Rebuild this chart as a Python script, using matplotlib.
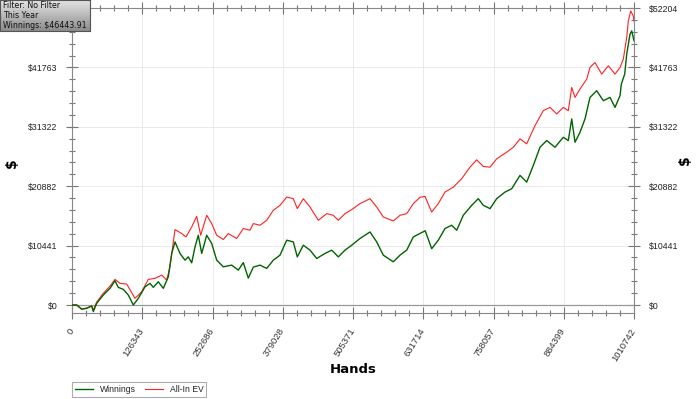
import numpy as np
import matplotlib
matplotlib.use("Agg")
import matplotlib.pyplot as plt
from matplotlib.ticker import FixedLocator, MultipleLocator

# ---- data ----
x_ticks = [0, 126343, 252686, 379028, 505371, 631714, 758057, 884399, 1010742]
x_tick_labels = [str(v) for v in x_ticks]
y_ticks = [0, 10441, 20882, 31322, 41763, 52204]
y_tick_labels = ["$" + str(v) for v in y_ticks]

win_hands = [0, 8450, 17450, 26440, 35430, 38310, 44420, 56300, 68350, 77340, 83270,
             92260, 101260, 110250, 119240, 131290, 140280, 146220, 155210, 164200,
             173190, 179310, 185250, 194240, 203230, 209170, 215280, 221220, 227150,
             233270, 242260, 251250, 260240, 272110, 287220, 299090, 308080, 317080,
             326070, 338120, 350170, 362040, 374090, 386140, 398010, 405200, 416000,
             428040, 440090, 455020, 467070, 478940, 490990, 503040, 517970, 535950,
             548000, 559870, 577860, 589910, 601960, 613830, 635220, 646910, 658780,
             670830, 682880, 691870, 703740, 718850, 730720, 739710, 751760, 763810,
             778740, 790790, 805720, 817770, 829640, 841690, 853740, 868680, 883600,
             892600, 898720, 904650, 913640, 922640, 931630, 943680, 955550, 967600,
             976600, 985590, 988020, 994020, 997640, 1003570, 1006630, 1010742]
win_values = [0, 0, -750, -580, -175, -1170, 300, 1750, 2930, 4260, 3100,
              2750, 1750, 0, 1170, 3200, 3800, 3100, 4080, 2930,
              4960, 9060, 11090, 9060, 7880, 8460, 7410, 10210, 12260,
              9060, 12260, 10810, 7880, 6710, 7010, 6130, 7450, 4730,
              6660, 7010, 6430, 7880, 8760, 11390, 11090, 8460, 10510,
              9640, 8180, 9060, 9640, 8460, 9640, 10510, 11690, 12840,
              11090, 8760, 7590, 8760, 9640, 11970, 13050, 9900, 11390,
              13440, 14020, 13140, 15770, 17520, 18690, 17520, 16940, 18690,
              19850, 20440, 22780, 21600, 24530, 27730, 28910, 27730, 29480,
              28910, 32710, 28610, 30360, 32710, 36490, 37670, 35910, 36490,
              34740, 36790, 38840, 40590, 44090, 47600, 48180, 46443.91]

ev_hands = [0, 8450, 17450, 26440, 35430, 38310, 44420, 56300, 68350, 77340, 86330,
            98380, 113310, 125360, 137230, 149280, 161330, 170320, 176250, 185250,
            197300, 205030, 215280, 224270, 231460, 242260, 251250, 260240, 272110,
            281110, 296210, 308080, 320130, 326070, 338120, 350170, 362040, 374090,
            386140, 398010, 405200, 416000, 428040, 442970, 458060, 469950, 478940,
            490990, 503040, 517970, 535950, 548000, 559870, 577860, 589910, 601960,
            613830, 625800, 634800, 646910, 658780, 670830, 685760, 700870, 715800,
            727850, 739710, 751760, 763810, 781800, 793660, 805720, 817770, 832700,
            847630, 859680, 871730, 883600, 892600, 898720, 904650, 913640, 925690,
            931630, 940620, 952670, 964550, 976600, 985590, 991520, 997640, 1000520,
            1004840, 1009520, 1010742]
ev_values = [0, 0, -700, -530, -175, -880, 530, 2050, 3330, 4500, 3800,
             3680, 1170, 2330, 4500, 4680, 5260, 4380, 6710, 13260,
             12560, 11970, 13720, 15590, 12260, 15770, 14310, 12260, 11510,
             12560, 11690, 13440, 13140, 14310, 14020, 14890, 16640, 17520,
             18970, 18690, 16940, 18690, 17220, 14890, 16060, 15770, 14890,
             16060, 16770, 17820, 18690, 17220, 15470, 14770, 15770, 16060,
             17820, 18920, 19100, 16340, 17820, 19850, 20720, 22200, 24230,
             25520, 24350, 24230, 25700, 26860, 27730, 29200, 28330, 31530,
             34160, 34740, 33580, 34740, 34160, 38240, 36490, 37960, 39710,
             41750, 42620, 40590, 42050, 40590, 41750, 43220, 47000, 49930,
             51680, 50800, 49930]

series_names = ["Winnings", "All-In EV"]
info_lines = ["Filter: No Filter", "This Year", "Winnings: $46443.91"]

# ---- figure ----
W, H = 700, 399
fig = plt.figure(figsize=(W / 100, H / 100), dpi=100)
fig.patch.set_facecolor("white")

ax_l, ax_r, ax_t, ax_b = 72, 634, 8, 313
ax = fig.add_axes([ax_l / W, 1 - ax_b / H, (ax_r - ax_l) / W, (ax_b - ax_t) / H])

ev_line, = ax.plot(ev_hands, ev_values, color="#ff2020", lw=0.8, zorder=3)
win_line, = ax.plot(win_hands, win_values, color="#006400", lw=1.0, zorder=4)

ax.set_xlim(0, 1010742)
ax.set_ylim(-1406, 52204)

ax.xaxis.set_major_locator(FixedLocator(x_ticks))
ax.xaxis.set_minor_locator(MultipleLocator(126343 / 5))
ax.yaxis.set_major_locator(FixedLocator(y_ticks))
ax.yaxis.set_minor_locator(MultipleLocator(10441 / 5))

ax.set_xticklabels(x_tick_labels, rotation=58, ha="right", va="center",
                   rotation_mode="anchor", color="#333333",
                   family="Liberation Sans", size=6.8)
ax.set_yticklabels(y_tick_labels, color="#222222", family="Liberation Sans", size=6.3)

ax.tick_params(axis="both", which="major", direction="inout", length=9, width=0.8,
               color="#777777", top=True, right=True, labelright=True)
ax.tick_params(axis="both", which="minor", direction="inout", length=4, width=0.8,
               color="#777777", top=True, right=True)
ax.tick_params(axis="x", which="major", pad=7)
ax.tick_params(axis="y", which="major", pad=6)
for t in ax.yaxis.get_major_ticks():
    t.label2.set_fontfamily("Liberation Sans")
    t.label2.set_fontsize(6.3)
    t.label2.set_color("#222222")
# the top-left label is hidden behind the info box in the reference
ax.yaxis.get_major_ticks()[-1].label1.set_visible(False)

for s in ax.spines.values():
    s.set_color("#888888")
    s.set_linewidth(0.8)

ax.grid(True, which="major", color="#e6e6e6", lw=0.6, zorder=0)
ax.axhline(0, color="#999999", lw=0.9, zorder=2)

ax.set_xlabel("Hands", fontsize=9.5, fontweight="bold")
ax.xaxis.set_label_coords(0.5, -0.165)
ax.set_ylabel("$", fontsize=10, fontweight="bold")
ax.yaxis.set_label_coords(-0.095, 0.49)
fig.text(685 / W, 1 - 160 / H, "$", fontsize=10, fontweight="bold",
         rotation=90, ha="center", va="center")

leg = fig.legend([win_line, ev_line], series_names, loc="lower left",
                 bbox_to_anchor=(ax_l / W, 1 - 397 / H), ncol=2,
                 prop=dict(family="Liberation Sans", size=6.2),
                 frameon=True, fancybox=False, handlelength=2.1, handletextpad=0.8,
                 columnspacing=1.0, borderpad=0.35, borderaxespad=0)
leg.get_frame().set_edgecolor("#999999")
leg.get_frame().set_linewidth(0.8)
for t in leg.get_texts():
    t.set_color("#222222")

# info box with gradient
bx = fig.add_axes([0, 1 - 31 / H, 90 / W, 31 / H])
grad = np.linspace(0, 1, 64).reshape(-1, 1)
bx.imshow(grad, aspect="auto", cmap=matplotlib.colors.LinearSegmentedColormap.from_list(
    "g", ["#e4e4e4", "#8c8c8c"]), extent=(0, 1, 0, 1), origin="upper")
bx.set_xlim(0, 1)
bx.set_ylim(0, 1)
bx.set_xticks([])
bx.set_yticks([])
for s in bx.spines.values():
    s.set_color("#555555")
    s.set_linewidth(0.8)
bx.text(0.03, 0.5, "\n".join(info_lines), fontsize=5.7, family="DejaVu Sans",
        va="center", ha="left", color="#111111", linespacing=1.12)

fig.savefig("out.png", dpi=100, facecolor="white")
